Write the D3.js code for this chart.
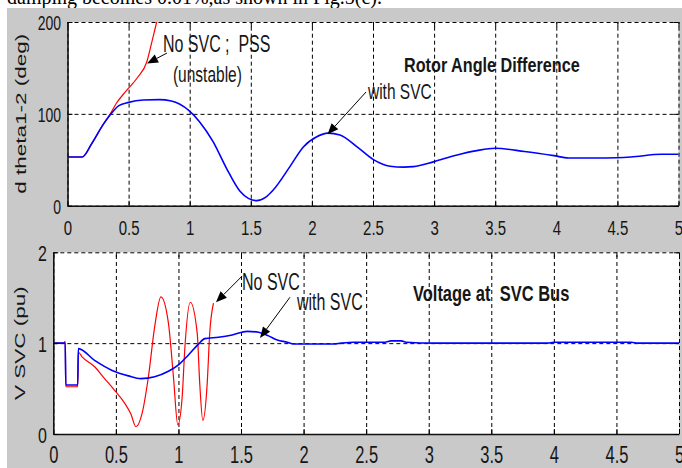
<!DOCTYPE html>
<html>
<head>
<meta charset="utf-8">
<script src="https://cdn.jsdelivr.net/npm/d3@7"></script>
<style>
  body { margin: 0; background: #fff; }
  svg { display: block; font-family: "Liberation Sans", Arial, sans-serif; }
</style>
</head>
<body>
<svg id="fig" width="682" height="468"></svg>
<script>
/* DATA */
const xTicks = [0, 0.5, 1, 1.5, 2, 2.5, 3, 3.5, 4, 4.5, 5];
const angleTicks = [0, 100, 200];
const voltTicks = [0, 1, 2];

// rotor angle difference d theta1-2 (deg), with SVC
const angleSvcT = [0, 0.12, 0.2, 0.29, 0.35, 0.42, 0.5, 0.62, 0.75, 0.85, 0.99, 1.08, 1.19, 1.3, 1.41, 1.48, 1.55, 1.62, 1.68, 1.82, 1.93, 2.04, 2.13, 2.23, 2.37, 2.5, 2.64, 2.75, 2.83, 3.0, 3.18, 3.35, 3.5, 3.74, 3.98, 4.1, 4.4, 4.61, 4.86, 5.0];
const angleSvcV = [53, 53, 68, 88, 99, 109, 112.5, 115, 115.5, 114, 104, 91.5, 70, 41, 16, 8, 5.5, 9, 16.5, 42.5, 64, 75, 79, 77, 64, 50.5, 43, 42, 42.5, 48, 55, 60, 62.5, 59, 54.5, 52, 52, 53, 56, 56];

// no SVC ; PSS (unstable)
const angleNoSvcT = [0, 0.12, 0.2, 0.29, 0.35, 0.4, 0.48, 0.57, 0.65, 0.69, 0.73, 0.76];
const angleNoSvcV = [53, 53, 68, 88, 100, 111.5, 125, 139, 157, 178, 200, 215];

// voltage at SVC bus (pu), with SVC
const voltSvcT = [0, 0.095, 0.1, 0.195, 0.2, 0.33, 0.47, 0.6, 0.7, 0.81, 0.92, 1.0, 1.08, 1.16, 1.21, 1.32, 1.43, 1.55, 1.64, 1.72, 1.79, 1.87, 1.92, 2.24, 2.3, 2.4, 2.65, 2.7, 2.78, 2.82, 3.05, 3.95, 4.0, 4.62, 4.67, 5.0];
const voltSvcV = [1.0, 1.0, 0.54, 0.54, 0.94, 0.81, 0.70, 0.64, 0.61, 0.63, 0.69, 0.76, 0.87, 0.99, 1.05, 1.065, 1.09, 1.13, 1.12, 1.08, 1.035, 1.01, 0.99, 0.99, 1.0, 1.01, 1.01, 1.025, 1.025, 1.01, 1.0, 1.0, 1.01, 1.01, 1.0, 1.0];

// no SVC
const voltNoSvcT = [0, 0.085, 0.095, 0.1, 0.195, 0.2, 0.23, 0.33, 0.41, 0.49, 0.57, 0.62, 0.66, 0.71, 0.76, 0.81, 0.86, 0.92, 0.96, 0.995, 1.03, 1.05, 1.095, 1.15, 1.17, 1.195, 1.23, 1.25, 1.28];
const voltNoSvcV = [1.0, 1.0, 1.02, 0.52, 0.52, 0.9, 0.85, 0.74, 0.61, 0.48, 0.34, 0.22, 0.08, 0.23, 0.63, 1.18, 1.51, 1.22, 0.63, 0.1, 0.41, 0.92, 1.45, 1.11, 0.56, 0.15, 0.56, 1.11, 1.44];

const zip = (ts, vs) => ts.map((t, i) => ({ t: t, v: vs[i] }));

/* SETUP */
const svg = d3.select("#fig");
const ink = "#161616";
const sy = 1.45; // the scan is stretched vertically, so the text is too

// caption line of the paper, cut off at the top
svg.append("text")
  .attr("x", 7).attr("y", 4)
  .attr("font-family", "'Liberation Serif', 'Times New Roman', serif")
  .attr("font-size", 20)
  .attr("fill", "#000")
  .text("damping becomes 0.01%,as shown in Fig.5(c).");

// gray figure background
svg.append("rect")
  .attr("x", 7).attr("y", 8)
  .attr("width", 675).attr("height", 460)
  .attr("fill", "#c9c9c9");

function note(x, y, str, size, bold, stretch) {
  svg.append("text")
    .attr("transform", `translate(${x},${y}) scale(1,${stretch || sy})`)
    .attr("font-size", size)
    .attr("font-weight", bold ? "bold" : null)
    .attr("fill", ink)
    .style("white-space", "pre")
    .text(str);
}

function arrow(x0, y0, x1, y1) {
  const a = Math.atan2(y1 - y0, x1 - x0), len = 11, half = 4.5;
  const bx = x1 - len * Math.cos(a), by = y1 - len * Math.sin(a);
  svg.append("line")
    .attr("x1", x0).attr("y1", y0).attr("x2", bx).attr("y2", by)
    .attr("stroke", "#000").attr("stroke-width", 1);
  const pts = [
    [x1, y1],
    [bx + half * Math.sin(a), by - half * Math.cos(a)],
    [bx - half * Math.sin(a), by + half * Math.cos(a)]
  ];
  svg.append("polygon").attr("points", pts.map(p => p.join(",")).join(" ")).attr("fill", "#000");
}

/* one MATLAB-style subplot */
function panel(cfg) {
  const x = d3.scaleLinear().domain([0, 5]).range([cfg.left, cfg.right]);
  const y = d3.scaleLinear().domain([cfg.yTicks[0], cfg.yTicks[cfg.yTicks.length - 1]]).range([cfg.bottom, cfg.top]);
  const w = cfg.right - cfg.left, h = cfg.bottom - cfg.top;

  svg.append("rect")
    .attr("x", cfg.left).attr("y", cfg.top)
    .attr("width", w).attr("height", h)
    .attr("fill", "#fff");

  // dashed grid
  svg.append("g")
    .attr("transform", `translate(0,${cfg.bottom})`)
    .call(d3.axisBottom(x).tickValues(xTicks).tickSize(-h).tickFormat(""))
    .call(g => g.select(".domain").remove())
    .selectAll("line").attr("stroke", "#000").attr("stroke-dasharray", "4,3");
  svg.append("g")
    .attr("transform", `translate(${cfg.left},0)`)
    .call(d3.axisLeft(y).tickValues(cfg.yTicks).tickSize(-w).tickFormat(""))
    .call(g => g.select(".domain").remove())
    .selectAll("line").attr("stroke", "#000").attr("stroke-dasharray", "4,3");

  // curves
  const clipId = "clip" + cfg.id;
  svg.append("clipPath").attr("id", clipId)
    .append("rect").attr("x", cfg.left).attr("y", cfg.top).attr("width", w).attr("height", h);
  const line = d3.line().x(d => x(d.t)).y(d => y(d.v)).curve(d3.curveMonotoneX);
  const plot = svg.append("g").attr("clip-path", `url(#${clipId})`);
  cfg.series.forEach(s => {
    plot.append("path")
      .datum(s.data)
      .attr("d", line)
      .attr("fill", "none")
      .attr("stroke", s.color)
      .attr("stroke-width", s.width);
  });

  // inner tick marks on all four sides
  const tick = 5;
  const bottomAxis = svg.append("g")
    .attr("transform", `translate(0,${cfg.bottom})`)
    .call(d3.axisBottom(x).tickValues(xTicks).tickSizeInner(-tick).tickSizeOuter(0).tickFormat(d => String(d)));
  svg.append("g")
    .attr("transform", `translate(0,${cfg.top})`)
    .call(d3.axisTop(x).tickValues(xTicks).tickSizeInner(-tick).tickSizeOuter(0).tickFormat(""))
    .call(g => g.select(".domain").remove());
  const leftAxis = svg.append("g")
    .attr("transform", `translate(${cfg.left},0)`)
    .call(d3.axisLeft(y).tickValues(cfg.yTicks).tickSizeInner(-tick).tickSizeOuter(0).tickFormat(d => String(d)));
  svg.append("g")
    .attr("transform", `translate(${cfg.right},0)`)
    .call(d3.axisRight(y).tickValues(cfg.yTicks).tickSizeInner(-tick).tickSizeOuter(0).tickFormat(""))
    .call(g => g.select(".domain").remove());

  [bottomAxis, leftAxis].forEach(g => {
    g.select(".domain").attr("stroke", "#111").attr("stroke-width", 1.6);
  });
  svg.selectAll(".tick line").attr("stroke", "#000");

  bottomAxis.selectAll(".tick text")
    .attr("y", null).attr("dy", null)
    .attr("transform", `translate(0,${cfg.xLabelOff}) scale(1,${cfg.xLabelSy})`)
    .attr("font-size", cfg.xLabelSize)
    .attr("font-family", null)
    .attr("fill", ink);
  leftAxis.selectAll(".tick text")
    .attr("x", null).attr("dy", null)
    .attr("transform", `translate(${cfg.yLabelDx},${cfg.yLabelOff}) scale(1,${cfg.yLabelSy})`)
    .attr("font-size", cfg.yLabelSize)
    .attr("font-family", null)
    .attr("fill", ink);

  // y axis title, stretched along its length
  svg.append("text")
    .attr("transform", `translate(${cfg.titleX},${(cfg.top + cfg.bottom) / 2}) rotate(-90) scale(1.5,1)`)
    .attr("text-anchor", "middle")
    .attr("font-size", 15)
    .attr("fill", ink)
    .text(cfg.yTitle);

  return { x, y };
}

/* TOP: rotor angle difference */
const topPanel = panel({
  id: "a", left: 67.5, right: 678.5, top: 22, bottom: 205.7,
  yTicks: angleTicks, yTitle: "d theta1-2 (deg)", titleX: 26,
  xLabelOff: 29.3, xLabelSize: 15, xLabelSy: 1.4,
  yLabelDx: -6.5, yLabelOff: 7.5, yLabelSize: 14, yLabelSy: 1.5,
  series: [
    { data: zip(angleNoSvcT, angleNoSvcV), color: "#ff0000", width: 1.2 },
    { data: zip(angleSvcT, angleSvcV), color: "#0000ff", width: 1.6 }
  ]
});
note(topPanel.x(0.781), topPanel.y(167.3), "No SVC ;  PSS", 16);
note(topPanel.x(0.863), topPanel.y(134.7), "(unstable)", 15.5);
arrow(topPanel.x(0.814), topPanel.y(166.2), topPanel.x(0.651), topPanel.y(154.8));
note(topPanel.x(2.459), topPanel.y(116.2), "with SVC", 15.5);
arrow(topPanel.x(2.443), topPanel.y(123.8), topPanel.x(2.128), topPanel.y(77.7));
note(topPanel.x(2.754), topPanel.y(145.6), "Rotor Angle Difference", 16.2, true, 1.3);

/* BOTTOM: voltage at SVC bus */
const botPanel = panel({
  id: "b", left: 53.3, right: 679, top: 252.3, bottom: 434,
  yTicks: voltTicks, yTitle: "V SVC (pu)", titleX: 25,
  xLabelOff: 29, xLabelSize: 16.5, xLabelSy: 1.5,
  yLabelDx: -6.3, yLabelOff: 8, yLabelSize: 16, yLabelSy: 1.4,
  series: [
    { data: zip(voltNoSvcT, voltNoSvcV), color: "#ff0000", width: 1.2 },
    { data: zip(voltSvcT, voltSvcV), color: "#0000ff", width: 1.6 }
  ]
});
note(botPanel.x(1.508), botPanel.y(1.585), "No SVC", 16);
arrow(botPanel.x(1.506), botPanel.y(1.734), botPanel.x(1.300), botPanel.y(1.450));
note(botPanel.x(1.947), botPanel.y(1.365), "with SVC", 16);
arrow(botPanel.x(1.891), botPanel.y(1.505), botPanel.x(1.652), botPanel.y(1.057));
note(botPanel.x(2.874), botPanel.y(1.469), "Voltage at  SVC Bus", 16.5, true, 1.3);
</script>
</body>
</html>
